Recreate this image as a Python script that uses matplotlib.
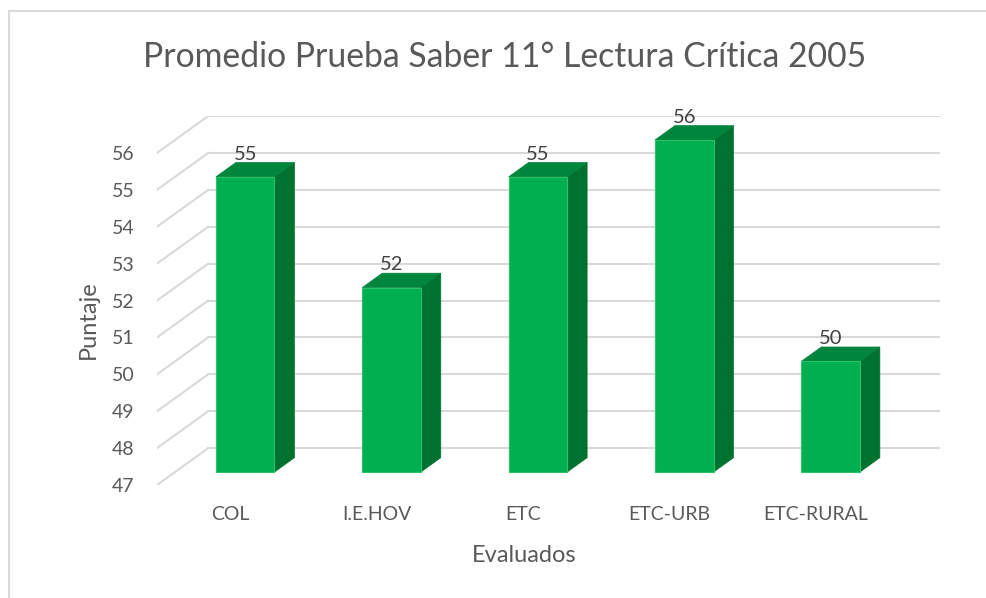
"""
Promedio Prueba Saber 11 - Lectura Critica 2005
Excel-style 3D column chart rebuilt with plain matplotlib polygons
"""

import matplotlib
matplotlib.use("Agg")
import matplotlib.pyplot as plt
from matplotlib.patches import Polygon, Rectangle

# data
categories = ["COL", "I.E.HOV", "ETC", "ETC-URB", "ETC-RURAL"]
values = [55, 52, 55, 56, 50]
y_ticks = list(range(47, 57))

title = "Promedio Prueba Saber 11° Lectura Crítica 2005"
x_label = "Evaluados"
y_label = "Puntaje"

# styling
FRONT = "#00B050"
TOP = "#00853C"
SIDE = "#00722F"
GRID = "#D9D9D9"
TEXT = "#595959"
plt.rcParams["font.family"] = ["Lato", "DejaVu Sans"]

# 3D look: depth offset of the back wall, in data units
DX, DY = 0.35, 1.0
BAR_W = 0.4
BAR_C = 0.48                   # bar centre inside its category slot
D_FRONT, D_BACK = 0.35, 0.74   # bar depth range as fraction of the wall depth
y_min = y_ticks[0]

fig = plt.figure(figsize=(9.87, 5.98), dpi=100)
W, H = 987, 598
ax = fig.add_axes([157 / W, (H - 485) / H, 783 / W, 369 / H])
ax.set_xlim(0, len(categories) + DX)
ax.set_ylim(y_min, y_ticks[-1] + DY)
for s in ax.spines.values():
    s.set_visible(False)

# gridlines: left wall diagonals + back wall horizontals
for v in y_ticks:
    ax.plot([0, DX], [v, v + DY], color=GRID, lw=1.5, zorder=1)
    ax.plot([DX, len(categories) + DX], [v + DY, v + DY], color=GRID, lw=1.5, zorder=1)

# bars
for i, v in enumerate(values):
    x0 = i + BAR_C - BAR_W / 2 + D_FRONT * DX
    b0 = y_min + D_FRONT * DY
    t0 = v + D_FRONT * DY
    ddx = (D_BACK - D_FRONT) * DX
    ddy = (D_BACK - D_FRONT) * DY
    side = Polygon([(x0 + BAR_W, b0), (x0 + BAR_W + ddx, b0 + ddy),
                    (x0 + BAR_W + ddx, t0 + ddy), (x0 + BAR_W, t0)],
                   closed=True, facecolor=SIDE, edgecolor=SIDE, lw=0.5, zorder=3)
    top = Polygon([(x0, t0), (x0 + BAR_W, t0), (x0 + BAR_W + ddx, t0 + ddy),
                   (x0 + ddx, t0 + ddy)],
                  closed=True, facecolor=TOP, edgecolor=TOP, lw=0.5, zorder=3)
    front = Rectangle((x0, b0), BAR_W, t0 - b0, facecolor=FRONT,
                      edgecolor="#2CC069", lw=0.8, zorder=4)
    for p in (side, top, front):
        ax.add_patch(p)
    ax.text(x0 + BAR_W / 2, v + D_BACK * DY + 0.08, str(v), ha="center",
            va="baseline", fontsize=14.5, color="#404040", zorder=5)

# ticks on the front plane
ax.set_yticks(y_ticks)
ax.set_yticklabels([str(t) for t in y_ticks])
ax.set_xticks([i + 0.5 for i in range(len(categories))])
ax.set_xticklabels(categories)
ax.tick_params(axis="y", length=0, pad=16, labelsize=14, labelcolor=TEXT)
ax.tick_params(axis="x", length=0, pad=15, labelsize=14, labelcolor=TEXT)

# axis titles and chart title
fig.text(88 / W, 1 - 320 / H, y_label, rotation=90, ha="center", va="center",
         fontsize=17, color=TEXT)
fig.text(524 / W, 1 - 556 / H, x_label, ha="center", va="center",
         fontsize=17, color=TEXT)
fig.text(505 / W, 1 - 57 / H, title, ha="center", va="center",
         fontsize=24.3, color=TEXT)

# chart area border (only left and top edges visible)
fig.add_artist(Rectangle((9 / W, -0.05), 1.1, 1 - 10.5 / H + 0.05,
                         transform=fig.transFigure, fill=False,
                         edgecolor=GRID, lw=1.5))

fig.savefig("out.png", dpi=100)
